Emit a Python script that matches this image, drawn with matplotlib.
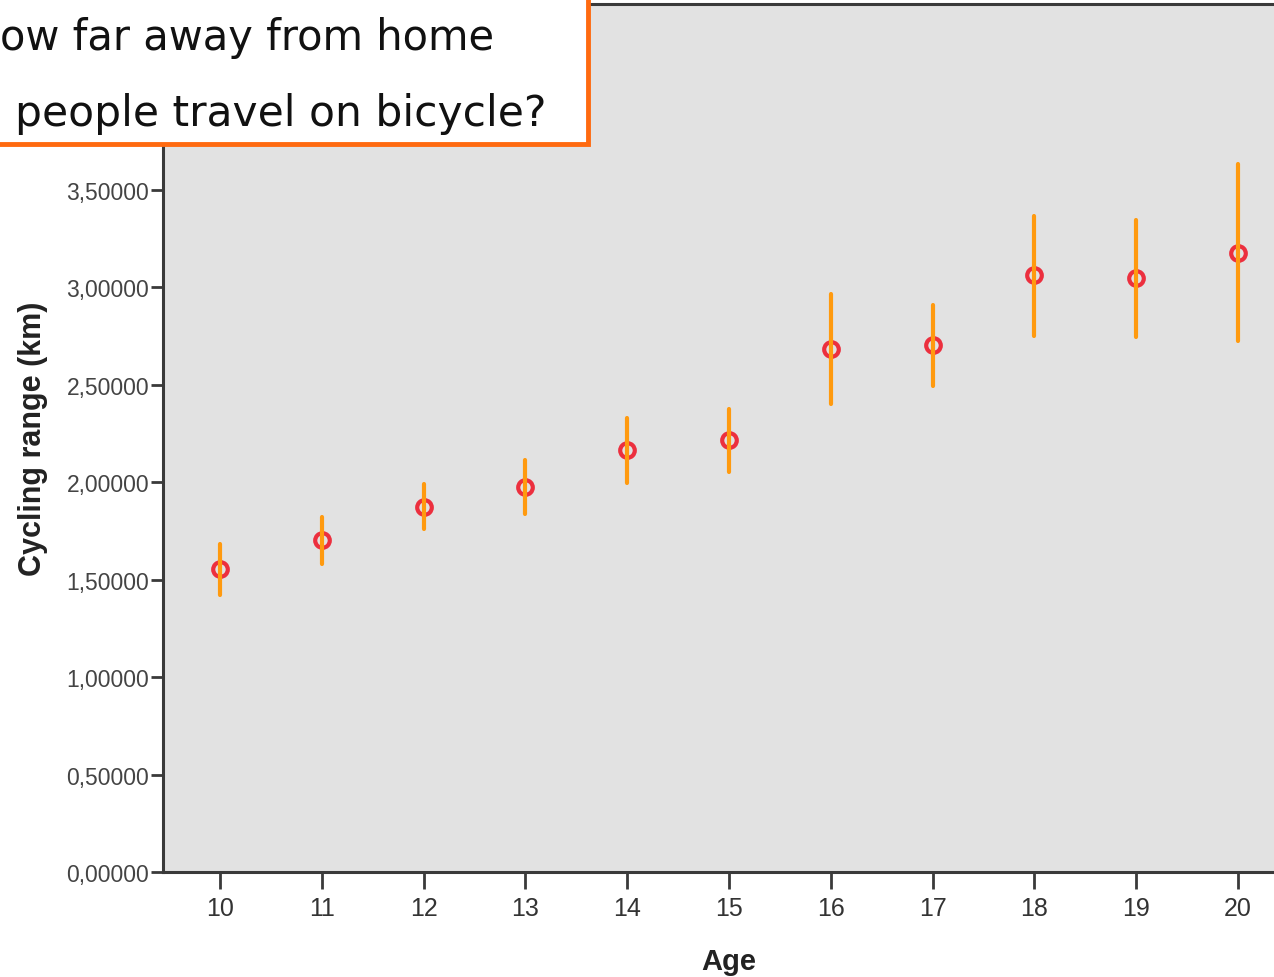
import matplotlib
matplotlib.use("Agg")
import matplotlib.pyplot as plt
from matplotlib.patches import Rectangle
from matplotlib.ticker import FuncFormatter, FixedLocator

# data
ages = [10, 11, 12, 13, 14, 15, 16, 17, 18, 19, 20]
mean_km = [1.555, 1.704, 1.873, 1.976, 2.166, 2.217, 2.684, 2.704, 3.062, 3.047, 3.177]
upper_km = [1.683, 1.822, 1.991, 2.114, 2.330, 2.376, 2.966, 2.910, 3.368, 3.346, 3.633]
lower_km = [1.421, 1.581, 1.760, 1.837, 1.996, 2.053, 2.402, 2.494, 2.752, 2.744, 2.723]
y_ticks = [0.0, 0.5, 1.0, 1.5, 2.0, 2.5, 3.0, 3.5]

title_lines = ["ow far away from home", "people travel on bicycle?"]

W, H = 1274, 978
fig = plt.figure(figsize=(W / 100, H / 100), dpi=100)

# plot area runs past the right edge of the picture
ax = fig.add_axes([163 / W, (H - 873) / H, 1132 / W, 868 / H])
ax.set_facecolor("#e2e2e2")

ax.vlines(ages, lower_km, upper_km, color="#ff9a0f", linewidth=3, zorder=4,
          capstyle="round")
ax.plot(ages, mean_km, linestyle="none", marker="o", markersize=10.5,
        markerfacecolor="none", markeredgecolor="#ec2f3e", markeredgewidth=3,
        zorder=3)

ax.set_xlim(9.44, 20.56)
ax.set_ylim(0, 4.455)
ax.set_xticks(ages)
ax.yaxis.set_major_locator(FixedLocator(y_ticks))
ax.yaxis.set_major_formatter(FuncFormatter(lambda v, p: f"{v:.5f}".replace(".", ",")))

for side in ["left", "bottom", "top", "right"]:
    ax.spines[side].set_color("#3a3a3a")
    ax.spines[side].set_linewidth(2.2)

ax.tick_params(axis="y", length=9, width=2, color="#3a3a3a", pad=1,
               labelsize=16.5, labelcolor="#444444")
ax.tick_params(axis="x", length=12, width=2, color="#3a3a3a", pad=5,
               labelsize=18, labelcolor="#333333")
for lab in ax.get_xticklabels() + ax.get_yticklabels():
    lab.set_family("Liberation Sans")

ax.set_ylabel("Cycling range (km)", fontsize=22, fontweight="bold",
              family="Liberation Sans", color="#222222", labelpad=13)
ax.set_xlabel("Age", fontsize=21, fontweight="bold",
              family="Liberation Sans", color="#222222", labelpad=20)

# title box in the top left corner
box = Rectangle((-20 / W, (H - 145) / H), 608 / W, 170 / H, transform=fig.transFigure,
                facecolor="white", edgecolor="#ff6a10", linewidth=3.5, zorder=10,
                clip_on=False)
fig.patches.append(box)
fig.text(0 / W, (H - 38) / H, title_lines[0], fontsize=30, family="DejaVu Sans",
         color="#111111", va="center", ha="left", zorder=11)
fig.text(15 / W, (H - 114) / H, title_lines[1], fontsize=30.5, family="DejaVu Sans",
         color="#111111", va="center", ha="left", zorder=11)

fig.savefig("out.png", dpi=100)
